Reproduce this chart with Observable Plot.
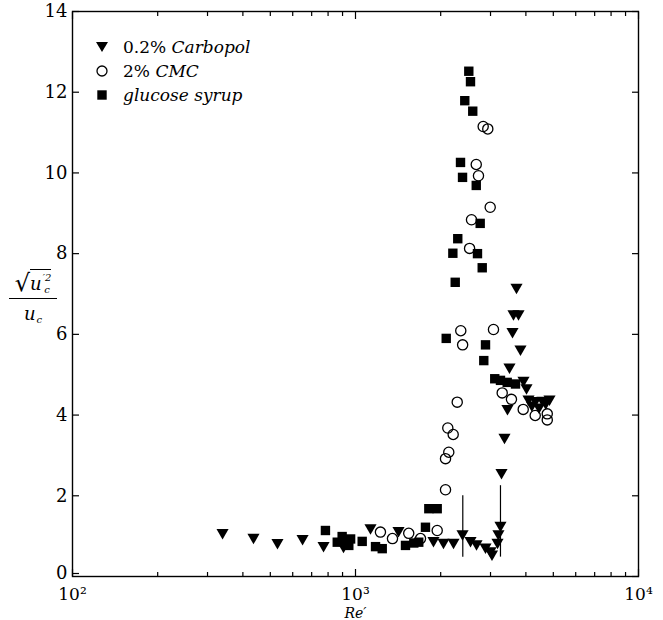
<!DOCTYPE html>
<html>
<head>
<meta charset="utf-8">
<script src="https://cdn.jsdelivr.net/npm/d3@7"></script>
<script src="https://cdn.jsdelivr.net/npm/@observablehq/plot@0.6"></script>
<style>
  html, body { margin: 0; padding: 0; background: #fff; }
  #wrap { position: relative; width: 663px; height: 620px; font-family: "DejaVu Serif", serif; color: #000; }
  #ylab { position: absolute; left: 9px; top: 268px; width: 48px; text-align: center; font-style: italic; font-size: 18px; line-height: 1; }
  #ylab .num { border-bottom: 1.4px solid #000; padding-bottom: 2px; white-space: nowrap; height: 28px; display: flex; align-items: flex-end; justify-content: center; }
  #ylab .rad { font-style: normal; font-size: 24px; line-height: 26px; }
  #ylab .ov { border-top: 1.3px solid #000; padding-top: 2px; display: inline-flex; align-items: center; line-height: 20px; }
  #ylab .ss { display: inline-flex; flex-direction: column; font-size: 10px; line-height: 12px; margin-left: 1px; }
  #ylab .den { padding-top: 3px; display: flex; justify-content: center; align-items: center; line-height: 20px; }
  #legend { position: absolute; left: 90px; top: 35px; font-size: 17px; line-height: 24px; }
  #legend .row { display: flex; align-items: center; height: 24px; }
  #legend svg { width: 24px; height: 24px; margin-right: 9px; }
  #legend i { font-style: italic; }
</style>
</head>
<body>
<div id="wrap">
  <div id="chart"></div>
  <div id="ylab">
    <div class="num"><span class="rad">√</span><span class="ov"><span>u</span><span class="ss"><span>′2</span><span>c</span></span></span></div>
    <div class="den"><span>u</span><span class="ss"><span style="visibility:hidden">c</span><span>c</span></span></div>
  </div>
  <div id="legend">
    <div class="row"><svg viewBox="-12 -12 24 24"><path d="M0,5 L-6,-5 L6,-5 Z" fill="#000"/></svg><span>0.2% <i>Carbopol</i></span></div>
    <div class="row"><svg viewBox="-12 -12 24 24"><circle r="5" fill="none" stroke="#000" stroke-width="1.3"/></svg><span>2% <i>CMC</i></span></div>
    <div class="row"><svg viewBox="-12 -12 24 24"><rect x="-4.7" y="-4.7" width="9.4" height="9.4" fill="#000"/></svg><span><i>glucose syrup</i></span></div>
  </div>
</div>
<script>
// ---- data ----
const carbopolRe = [339, 436, 530, 650, 771, 907, 1130, 1419, 1886, 2046, 2220, 2389, 2549, 2677, 2880, 2999, 3036, 3175, 3200, 3253, 3280, 3361, 3443, 3500, 3587, 3616, 3706, 3767, 3828, 3923, 4020, 4086, 4200, 4325, 4450, 4579, 4700, 4848];
const carbopolVal = [1.09, 0.97, 0.84, 0.94, 0.77, 0.75, 1.21, 1.14, 0.89, 0.85, 0.85, 1.06, 0.89, 0.81, 0.73, 0.64, 0.56, 0.85, 1.06, 1.27, 2.58, 3.45, 4.16, 5.19, 6.07, 6.51, 7.17, 6.51, 5.64, 4.86, 4.68, 4.40, 4.25, 4.36, 4.20, 4.37, 4.30, 4.40];

const cmcRe = [1225, 1351, 1542, 1697, 1944, 2080, 2080, 2136, 2119, 2214, 2288, 2355, 2391, 2530, 2570, 2671, 2720, 2826, 2934, 2992, 3073, 3299, 3557, 3914, 4315, 4760, 4760];
const cmcVal = [1.10, 0.94, 1.07, 0.94, 1.14, 2.15, 2.92, 3.08, 3.68, 3.52, 4.32, 6.09, 5.74, 8.13, 8.84, 10.21, 9.93, 11.15, 11.09, 9.15, 6.12, 4.55, 4.39, 4.14, 3.99, 4.03, 3.88];

const glucoseRe = [783, 862, 897, 922, 947, 961, 1056, 1177, 1243, 1502, 1607, 1673, 1767, 1816, 1944, 2092, 2208, 2251, 2298, 2350, 2389, 2433, 2514, 2549, 2596, 2671, 2698, 2758, 2804, 2840, 2880, 3105, 3253, 3436, 3676];
const glucoseVal = [1.14, 0.85, 0.99, 0.91, 0.77, 0.93, 0.87, 0.74, 0.69, 0.77, 0.83, 0.85, 1.22, 1.68, 1.68, 5.90, 8.01, 7.29, 8.37, 10.26, 9.89, 11.79, 12.52, 12.26, 11.53, 9.69, 8.00, 8.75, 7.65, 5.35, 5.74, 4.90, 4.86, 4.81, 4.77];

// vertical range lines (carbopol)
const rangeRe = [2394, 3253];
const rangeTop = [2.0, 2.25];
const rangeBottom = [0.48, 0.48];

// ticks
const xMajorTicks = [100, 1000, 10000];
const xMajorLabels = ["10²", "10³", "10⁴"];
const xMinorTicks = [200, 300, 400, 500, 600, 700, 800, 900, 2000, 3000, 4000, 5000, 6000, 7000, 8000, 9000];
const yTicks = [0, 2, 4, 6, 8, 10, 12, 14];

// ---- build ----
const carbopol = carbopolRe.map((x, i) => ({x, y: carbopolVal[i]}));
const cmc = cmcRe.map((x, i) => ({x, y: cmcVal[i]}));
const glucose = glucoseRe.map((x, i) => ({x, y: glucoseVal[i]}));
const ranges = rangeRe.map((x, i) => ({x, y1: rangeBottom[i], y2: rangeTop[i]}));

const triangleDown = {
  draw(ctx, size) {
    const s3 = Math.sqrt(3);
    const y = Math.sqrt(size / (s3 * 3));
    ctx.moveTo(0, 2 * y);
    ctx.lineTo(-s3 * y, -y);
    ctx.lineTo(s3 * y, -y);
    ctx.closePath();
  }
};

const blank = () => "";
const serif = "'DejaVu Serif', serif";

const chart = Plot.plot({
  width: 663,
  height: 620,
  marginLeft: 72,
  marginRight: 25,
  marginTop: 11,
  marginBottom: 44,
  style: {fontFamily: serif, fontSize: "18px", color: "#000", background: "#fff"},
  x: {type: "log", domain: [100, 10000]},
  y: {domain: [0, 14]},
  marks: [
    Plot.axisX({anchor: "bottom", ticks: xMajorTicks, tickSize: -7, tickPadding: 18, strokeWidth: 1.2, fontSize: 17,
      tickFormat: (d) => xMajorLabels[xMajorTicks.indexOf(d)], label: null}),
    Plot.axisX({anchor: "bottom", ticks: xMinorTicks, tickSize: -4, tickFormat: blank, label: null, strokeWidth: 1.2}),
    Plot.axisX({anchor: "top", ticks: xMajorTicks, tickSize: -7, tickFormat: blank, label: null, strokeWidth: 1.2}),
    Plot.axisX({anchor: "top", ticks: xMinorTicks, tickSize: -4, tickFormat: blank, label: null, strokeWidth: 1.2}),
    // y tick labels: the "0" label sits a touch higher so it clears the 10² label
    Plot.axisY({anchor: "left", ticks: yTicks.slice(1), tickSize: -7, tickPadding: 12, strokeWidth: 1.2, fontSize: 18, label: null}),
    Plot.axisY({anchor: "left", ticks: yTicks.slice(0, 1), tickSize: -7, tickPadding: 12, strokeWidth: 1.2, fontSize: 18, dy: -3, label: null}),
    Plot.axisY({anchor: "right", ticks: yTicks, tickSize: -7, tickFormat: blank, label: null, strokeWidth: 1.2}),
    Plot.frame({stroke: "#000", strokeWidth: 1.4}),
    Plot.text(["Re′"], {frameAnchor: "bottom", dy: 31.3, lineAnchor: "top", fontStyle: "italic", fontSize: 14, fontFamily: serif}),
    Plot.ruleX(ranges, {x: "x", y1: "y1", y2: "y2", stroke: "#000", strokeWidth: 1.2}),
    Plot.dot(glucose, {x: "x", y: "y", symbol: "square", r: 5.3, fill: "#000", stroke: "none"}),
    Plot.dot(cmc, {x: "x", y: "y", symbol: "circle", r: 5.1, fill: "none", stroke: "#000", strokeWidth: 1.3}),
    Plot.dot(carbopol, {x: "x", y: "y", symbol: triangleDown, r: 4.5, fill: "#000", stroke: "none"})
  ]
});
document.getElementById("chart").appendChild(chart);
</script>
</body>
</html>
